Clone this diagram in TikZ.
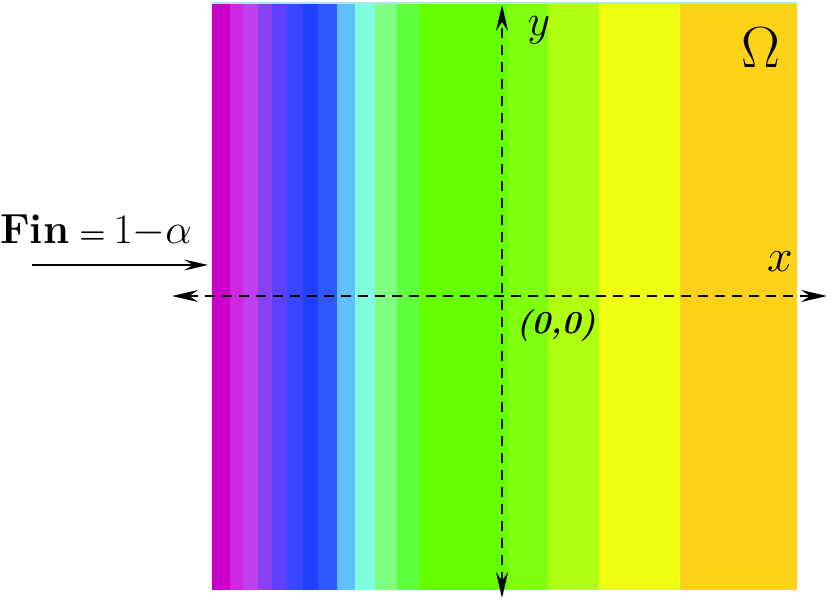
\documentclass[tikz,border=0pt]{standalone}
\usepackage{fix-cm}
\usetikzlibrary{arrows.meta}
\begin{document}
\begin{tikzpicture}[x=1pt,y=-1pt,
  axtip/.style={Stealth[length=26pt,width=12pt,inset=9pt]},
  axis/.style={line width=1.7pt,dash pattern=on 10pt off 7pt,{Stealth[length=26pt,width=12pt,inset=9pt]}-{Stealth[length=26pt,width=12pt,inset=9pt]}},
  inarrow/.style={line width=1.5pt,-{Stealth[length=24pt,width=11pt,inset=9pt]}},
  lbl/.style={inner sep=0pt,text=black}]
\useasboundingbox (0,0) rectangle (830,602);
% colour bands
\definecolor{b1}{HTML}{C800C8}
\definecolor{b2}{HTML}{D028E0}
\definecolor{b3}{HTML}{C040F0}
\definecolor{b4}{HTML}{8840F0}
\definecolor{b5}{HTML}{6040FF}
\definecolor{b6}{HTML}{3848FF}
\definecolor{b7}{HTML}{2040FF}
\definecolor{b8}{HTML}{3058FF}
\definecolor{b9}{HTML}{60C0FF}
\definecolor{b10}{HTML}{80FFE0}
\definecolor{b11}{HTML}{80FF80}
\definecolor{b12}{HTML}{60FF40}
\definecolor{b13}{HTML}{66FF00}
\definecolor{b14}{HTML}{80FF10}
\definecolor{b15}{HTML}{B0FF10}
\definecolor{b16}{HTML}{F0FF10}
\definecolor{b17}{HTML}{FFD21A}
\definecolor{topline}{HTML}{A8E8F0}
\fill[b1]  (212,2) rectangle (230,590);
\fill[b2]  (230,2) rectangle (243,590);
\fill[b3]  (243,2) rectangle (258,590);
\fill[b4]  (258,2) rectangle (272,590);
\fill[b5]  (272,2) rectangle (287,590);
\fill[b6]  (287,2) rectangle (303,590);
\fill[b7]  (303,2) rectangle (318,590);
\fill[b8]  (318,2) rectangle (337,590);
\fill[b9]  (337,2) rectangle (355,590);
\fill[b10] (355,2) rectangle (375,590);
\fill[b11] (375,2) rectangle (397,590);
\fill[b12] (397,2) rectangle (420,590);
\fill[b13] (420,2) rectangle (508,590);
\fill[b14] (508,2) rectangle (548,590);
\fill[b15] (548,2) rectangle (599,590);
\fill[b16] (599,2) rectangle (680,590);
\fill[b17] (680,2) rectangle (797,590);
\fill[topline] (212,2) rectangle (797,4);
% axes
\coordinate (yt) at (502,5);
\coordinate (yb) at (502,598);
\coordinate (xl) at (172,296);
\coordinate (xr) at (827,296);
\draw[axis] (yb) -- (yt);
\draw[axis] (xl) -- (xr);
% inflow arrow
\coordinate (fa) at (32,265);
\coordinate (fb) at (208,265);
\draw[inarrow] (fa) -- (fb);
% labels
\node[lbl] (ylab) at (539,30) {\fontsize{44}{44}\selectfont$y$};
\node[lbl] (om) at (761,48) {\fontsize{58}{58}\selectfont$\Omega$};
\node[lbl] (xlab) at (780,262) {\fontsize{46}{46}\selectfont$x$};
\node[lbl] (orig) at (556,325) {\fontsize{32}{32}\selectfont\bfseries\itshape (0,0)};
\node[lbl,anchor=base west] (fin) at (0,243) {\fontsize{42}{42}\selectfont\textbf{Fin}\hspace{10pt}{\fontsize{30}{30}\selectfont\bfseries=}\hspace{8pt}$1{-}\alpha$};
\end{tikzpicture}
\end{document}
